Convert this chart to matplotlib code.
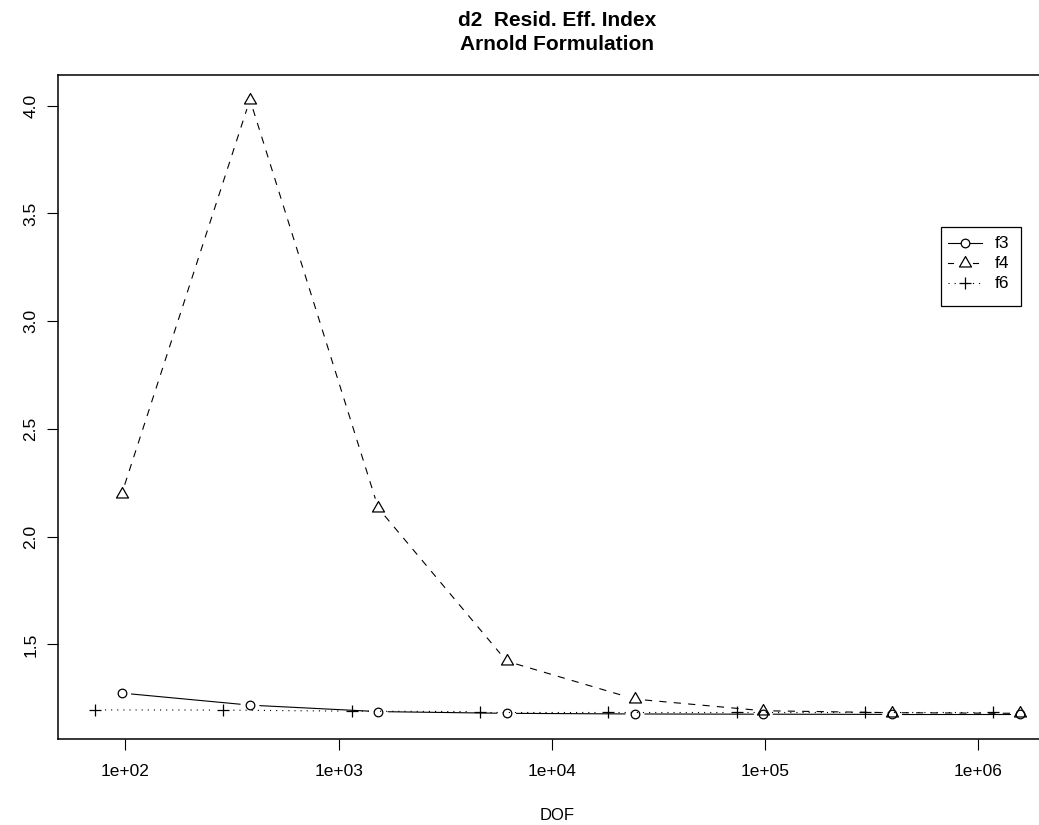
import numpy as np
import matplotlib
matplotlib.use("Agg")
import matplotlib.pyplot as plt
from matplotlib.path import Path
from matplotlib.ticker import FixedLocator, FixedFormatter, NullLocator

plt.rcParams['font.family'] = ['Liberation Sans', 'DejaVu Sans']
plt.rcParams['lines.scale_dashes'] = False

# data
dof_f3 = [96, 384, 1536, 6144, 24576, 98304, 393216, 1572864]
val_f3 = [1.274, 1.218, 1.188, 1.180, 1.177, 1.176, 1.175, 1.175]
dof_f4 = [96, 384, 1536, 6144, 24576, 98304, 393216, 1572864]
val_f4 = [2.197, 4.028, 2.132, 1.422, 1.246, 1.192, 1.183, 1.180]
dof_f6 = [72, 288, 1152, 4608, 18432, 73728, 294912, 1179648]
val_f6 = [1.196, 1.195, 1.190, 1.188, 1.188, 1.188, 1.188, 1.188]

xticks = [1e2, 1e3, 1e4, 1e5, 1e6]
xticklabels = ['1e+02', '1e+03', '1e+04', '1e+05', '1e+06']
yticks = [1.5, 2.0, 2.5, 3.0, 3.5, 4.0]
yticklabels = ['1.5', '2.0', '2.5', '3.0', '3.5', '4.0']

W, H = 1039, 825
fig = plt.figure(figsize=(W / 100, H / 100), dpi=100)

# plot region in pixels (right edge runs past the image, as in the reference)
left, right, top, bottom = 58, 1057, 75, 739
ax = fig.add_axes([left / W, 1 - bottom / H, (right - left) / W, (bottom - top) / H])
ax.set_xscale('log')

# R style 4% axis extension
allx = np.log10(np.concatenate([dof_f3, dof_f4, dof_f6]))
ally = np.concatenate([val_f3, val_f4, val_f6])
dx = (allx.max() - allx.min()) * 0.04
dy = (ally.max() - ally.min()) * 0.04
ax.set_xlim(10 ** (allx.min() - dx), 10 ** (allx.max() + dx))
ax.set_ylim(ally.min() - dy, ally.max() + dy)

for s in ax.spines.values():
    s.set_linewidth(1.1)
ax.xaxis.set_major_locator(FixedLocator(xticks))
ax.xaxis.set_major_formatter(FixedFormatter(xticklabels))
ax.xaxis.set_minor_locator(NullLocator())
ax.set_yticks(yticks)
ax.set_yticklabels(yticklabels, rotation=90, va='center')
ax.tick_params(axis='both', length=8, width=0.8, labelsize=12.5, direction='out')
ax.tick_params(axis='x', pad=10)
ax.tick_params(axis='y', pad=6)

tri = Path([(-0.5, -0.2887), (0.5, -0.2887), (0, 0.5774), (-0.5, -0.2887)],
           [Path.MOVETO, Path.LINETO, Path.LINETO, Path.CLOSEPOLY])

GAP = 10  # px, gap around points like type="b"


def gapped_line(x, y, **kw):
    pts = ax.transData.transform(np.column_stack([x, y]))
    inv = ax.transData.inverted()
    for p0, p1 in zip(pts[:-1], pts[1:]):
        d = p1 - p0
        L = np.hypot(*d)
        if L <= 2 * GAP:
            continue
        u = d / L
        seg = inv.transform([p0 + u * GAP, p1 - u * GAP])
        ax.plot(seg[:, 0], seg[:, 1], color='black', lw=0.8, **kw)


series = [
    (dof_f3, val_f3, '-', 'o', 6.2),
    (dof_f4, val_f4, (0, (5.2, 5.2)), tri, 10),
    (dof_f6, val_f6, (0, (0.8, 3.6)), '+', 8.6),
]
for x, y, ls, mk, ms in series:
    gapped_line(x, y, linestyle=ls)
    ax.plot(x, y, linestyle='none', marker=mk, ms=ms, mfc='none', mec='black', mew=0.9)

# title and axis label
fig.text(557 / W, 1 - 21 / H, 'd2  Resid. Eff. Index', ha='center', va='center',
         fontsize=15, fontweight='bold')
fig.text(557 / W, 1 - 45 / H, 'Arnold Formulation', ha='center', va='center',
         fontsize=15, fontweight='bold')
fig.text(557 / W, 1 - 815 / H, 'DOF', ha='center', va='center', fontsize=12)

# legend drawn in pixel coordinates
ov = fig.add_axes([0, 0, 1, 1])
ov.set_xlim(0, W)
ov.set_ylim(H, 0)
ov.axis('off')
ov.add_patch(plt.Rectangle((941, 227), 80, 79, fill=False, lw=0.9, ec='black'))
labels = ['f3', 'f4', 'f6']
rows = [243, 263, 283]
for (x, y, ls, mk, ms), lab, ry in zip(series, labels, rows):
    if mk == 'o':
        ov.plot([948, 960], [ry, ry], color='black', lw=0.8)
        ov.plot([970, 982], [ry, ry], color='black', lw=0.8)
    elif mk is tri:
        ov.plot([948, 953], [ry, ry], color='black', lw=0.8)
        ov.plot([973, 978], [ry, ry], color='black', lw=0.8)
    else:
        ov.plot([948, 982], [ry, ry], color='black', lw=0.8, linestyle=ls)
    ov.plot([965], [ry], linestyle='none', marker=mk, ms=ms, mfc='none', mec='black', mew=0.9)
    ov.text(995, ry, lab, ha='left', va='center', fontsize=12.5)

fig.savefig('out.png', dpi=100)
